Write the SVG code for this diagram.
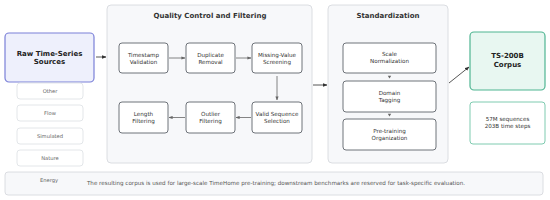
<svg xmlns="http://www.w3.org/2000/svg" width="550" height="200" viewBox="0 0 550 200">
<style>
text{font-family:"DejaVu Sans","Verdana",sans-serif;fill:#333;text-anchor:middle}
.panel{fill:#f7f8fa;stroke:#d3d6db;stroke-width:0.8}
.node{fill:#fff;stroke:#5f646b;stroke-width:0.9}
.src{fill:#fff;stroke:#dcdfe3;stroke-width:0.8}
.t{font-size:5.6px}
.s{font-size:5.2px;fill:#666}
.note{font-size:5.6px;fill:#555}
.title{font-size:7px;font-weight:bold}
.b{font-size:7px;font-weight:bold;fill:#222}
.con{stroke:#444;stroke-width:0.9;fill:none;marker-end:url(#ah)}
.con2{stroke:#666;stroke-width:0.8;fill:none;marker-end:url(#ah2)}
.tri{fill:#666}
</style>
<defs>
<marker id="ah" viewBox="0 0 10 10" refX="9" refY="5" markerWidth="5" markerHeight="5" orient="auto"><path d="M0,1 L10,5 L0,9 z" fill="#333"/></marker>
<marker id="ah2" viewBox="0 0 10 10" refX="9" refY="5" markerWidth="5" markerHeight="5" orient="auto"><path d="M0,1 L10,5 L0,9 z" fill="#666"/></marker>
</defs>

<g id="bottom-note">
<rect x="5" y="172" width="538" height="23" rx="3" class="panel"/>
<text x="49" y="182" class="s">Energy</text>
<text x="276" y="185" class="note">The resulting corpus is used for large-scale TimeHome pre-training; downstream benchmarks are reserved for task-specific evaluation.</text>
</g>

<g id="qc-panel">
<rect x="107" y="5" width="205" height="158" rx="4" class="panel"/>
<text x="210" y="18" class="title">Quality Control and Filtering</text>
</g>
<g id="std-panel">
<rect x="328" y="5" width="120" height="158" rx="4" class="panel"/>
<text x="388" y="18" class="title">Standardization</text>
</g>

<g id="raw">
<rect x="5" y="33" width="89" height="49" rx="4" fill="#eef0fc" stroke="#7b80d8" stroke-width="1.2"/>
<text x="49.5" y="55.5" class="b">Raw Time-Series</text>
<text x="49.5" y="64" class="b">Sources</text>
</g>
<g id="src-other"><rect x="17" y="83" width="66" height="16" rx="3" class="src"/><text x="50" y="92.8" class="s">Other</text></g>
<g id="src-flow"><rect x="17" y="105" width="66" height="16" rx="3" class="src"/><text x="50" y="114.8" class="s">Flow</text></g>
<g id="src-simulated"><rect x="17" y="128" width="66" height="16" rx="3" class="src"/><text x="50" y="137.8" class="s">Simulated</text></g>
<g id="src-nature"><rect x="17" y="150" width="66" height="16" rx="3" class="src"/><text x="50" y="159.8" class="s">Nature</text></g>

<g id="timestamp"><rect x="119" y="43" width="49" height="30" rx="3" class="node"/><text x="143.5" y="56.5" class="t">Timestamp</text><text x="143.5" y="63.5" class="t">Validation</text></g>
<g id="duplicate"><rect x="186" y="43" width="49" height="30" rx="3" class="node"/><text x="210.5" y="56.5" class="t">Duplicate</text><text x="210.5" y="63.5" class="t">Removal</text></g>
<g id="missing"><rect x="252" y="43" width="50" height="30" rx="3" class="node"/><text x="277" y="56.5" class="t">Missing-Value</text><text x="277" y="63.5" class="t">Screening</text></g>
<g id="valid"><rect x="252" y="102" width="50" height="31" rx="3" class="node"/><text x="277" y="116" class="t">Valid Sequence</text><text x="277" y="123" class="t">Selection</text></g>
<g id="outlier"><rect x="186" y="102" width="49" height="31" rx="3" class="node"/><text x="210.5" y="116" class="t">Outlier</text><text x="210.5" y="123" class="t">Filtering</text></g>
<g id="length"><rect x="119" y="102" width="49" height="31" rx="3" class="node"/><text x="143.5" y="116" class="t">Length</text><text x="143.5" y="123" class="t">Filtering</text></g>

<g id="scale"><rect x="343" y="43" width="93" height="30" rx="3" class="node"/><text x="389.5" y="56" class="t">Scale</text><text x="389.5" y="63" class="t">Normalization</text></g>
<g id="domain"><rect x="343" y="81" width="93" height="31" rx="3" class="node"/><text x="389.5" y="94.5" class="t">Domain</text><text x="389.5" y="101.5" class="t">Tagging</text></g>
<g id="pretrain"><rect x="343" y="119" width="93" height="31" rx="3" class="node"/><text x="389.5" y="132.5" class="t">Pre-training</text><text x="389.5" y="139.5" class="t">Organization</text></g>

<g id="corpus"><rect x="470" y="32" width="75" height="58" rx="4" fill="#e8f7f1" stroke="#4fb592" stroke-width="1.2"/><text x="507.5" y="58" class="b">TS-200B</text><text x="507.5" y="66.5" class="b">Corpus</text></g>
<g id="stats"><rect x="470" y="102" width="75" height="42" rx="3" fill="#fff" stroke="#7fcbb0" stroke-width="1"/><text x="507.5" y="121" class="t">57M sequences</text><text x="507.5" y="128" class="t">203B time steps</text></g>

<g id="connectors">
<path d="M96,57 H106" class="con"/>
<path d="M313,85 H327" class="con"/>
<path d="M449,83 L469,67" class="con"/>
<path d="M169,58 H185" class="con2"/>
<path d="M236,58 H251" class="con2"/>
<path d="M277,76 V100" class="con2"/>
<path d="M251,117.5 H236" class="con2"/>
<path d="M185,117.5 H169" class="con2"/>
<path d="M387.8,75.8 L391.2,75.8 L389.5,78.6 z" class="tri"/>
<path d="M387.8,113.8 L391.2,113.8 L389.5,116.6 z" class="tri"/>
</g>
</svg>
